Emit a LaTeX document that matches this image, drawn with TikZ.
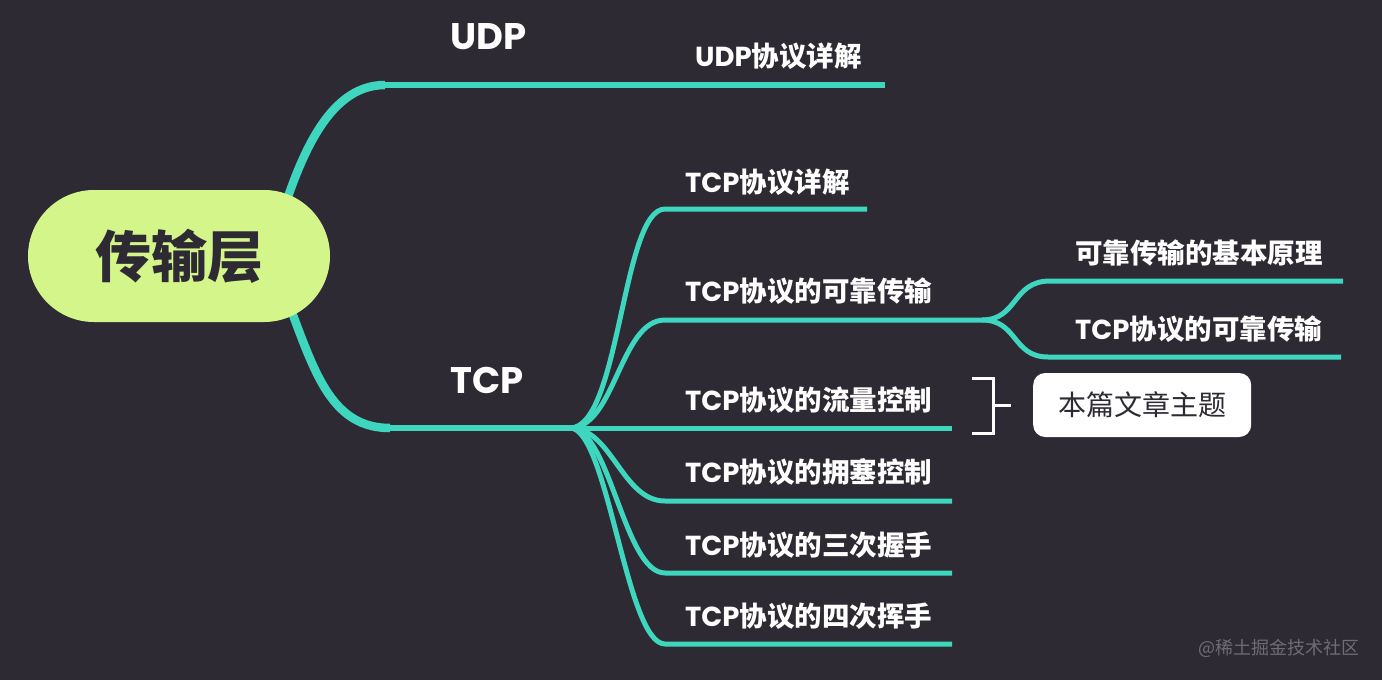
\documentclass[tikz,border=0pt]{standalone}
\usepackage{fontspec}
\usepackage{xcolor}
\usepackage{tikz}
\usetikzlibrary{positioning}
\newfontfamily\cjk{Noto Sans CJK SC}
\newfontfamily\lat{Poppins}
\definecolor{bgdark}{RGB}{46,42,51}
\definecolor{branchcol}{RGB}{62,214,191}
\definecolor{rootfill}{RGB}{212,245,138}
\definecolor{wmgray}{RGB}{112,108,118}

\begin{document}
\begin{tikzpicture}[x=1pt, y=-1pt,
        rootbox/.style={rectangle, fill=rootfill, rounded corners=66pt, minimum width=302pt, minimum height=132pt, text=bgdark, font=\cjk\bfseries\fontsize{56}{60}\selectfont},
        lvlone/.style={anchor=west, inner sep=0pt, text=white, font=\lat\bfseries\fontsize{37}{40}\selectfont},
        lvltwo/.style={anchor=west, inner sep=0pt, text=white, font=\cjk\bfseries\fontsize{27.5}{30}\selectfont},
        topicbox/.style={rectangle, fill=white, rounded corners=12pt, minimum width=218pt, minimum height=64pt, text=bgdark, font=\cjk\fontsize{28}{30}\selectfont},
        rootline/.style={draw=branchcol, line width=8.5pt},
        subline/.style={draw=branchcol, line width=5pt, line join=round},
        bracket/.style={draw=white, line width=3pt},
        wmtext/.style={anchor=east, inner sep=0pt, text=wmgray, font=\cjk\fontsize{18}{20}\selectfont}]

        \fill[bgdark] (0,0) rectangle (1382,680);
        \useasboundingbox (0,0) rectangle (1382,680);

        % branch points
        \coordinate (rc) at (270,256);
        \coordinate (udpk) at (385,85);
        \coordinate (udpe) at (885,85);
        \coordinate (tcpk) at (390,428);
        \coordinate (tcpf) at (570,428);
        \coordinate (t1s) at (665,209);  \coordinate (t1e) at (867,209);
        \coordinate (t2s) at (665,320);  \coordinate (t2f) at (982,320);
        \coordinate (r1s) at (1050,281); \coordinate (r1e) at (1343,281);
        \coordinate (r2s) at (1048,357); \coordinate (r2e) at (1341,357);
        \coordinate (t3e) at (952,428);
        \coordinate (t4s) at (665,501);  \coordinate (t4e) at (952,501);
        \coordinate (t5s) at (665,573);  \coordinate (t5e) at (952,573);
        \coordinate (t6s) at (665,644);  \coordinate (t6e) at (952,644);

        % branches
        \draw[rootline] (rc) .. controls (295,165) and (325,85) .. (udpk);
        \draw[subline, line width=5.5pt] (udpk) -- (udpe);
        \draw[rootline] (rc) .. controls (310,350) and (320,428) .. (tcpk);
        \draw[subline, line width=5.5pt] (tcpk) -- (tcpf);
        \draw[subline] (tcpf) .. controls (620,428) and (622,209) .. (t1s) -- (t1e);
        \draw[subline] (tcpf) .. controls (615,428) and (620,320) .. (t2s) -- (t2f);
        \draw[subline] (t2f) .. controls (1018,320) and (1012,281) .. (r1s) -- (r1e);
        \draw[subline] (t2f) .. controls (1018,320) and (1012,357) .. (r2s) -- (r2e);
        \draw[subline] (tcpf) -- (t3e);
        \draw[subline] (tcpf) .. controls (612,428) and (622,501) .. (t4s) -- (t4e);
        \draw[subline] (tcpf) .. controls (610,428) and (624,573) .. (t5s) -- (t5e);
        \draw[subline] (tcpf) .. controls (608,428) and (626,644) .. (t6s) -- (t6e);

        \node (root) [rootbox] at (179,256) {传输层};
        \node (udp) [lvlone] at (450,37) {UDP};
        \node (tcp) [lvlone] at (450,380) {TCP};
        \node (udpd) [lvltwo] at (695,56) {{\lat UDP}协议详解};
        \node (tcpd) [lvltwo] at (685,182) {{\lat TCP}协议详解};
        \node (rel) [lvltwo] at (685,291) {{\lat TCP}协议的可靠传输};
        \node (relbase) [lvltwo] at (1075,253) {可靠传输的基本原理};
        \node (relsub) [lvltwo] at (1075,329) {{\lat TCP}协议的可靠传输};
        \node (flow) [lvltwo] at (685,400) {{\lat TCP}协议的流量控制};
        \node (cong) [lvltwo] at (685,472) {{\lat TCP}协议的拥塞控制};
        \node (hs) [lvltwo] at (685,545) {{\lat TCP}协议的三次握手};
        \node (wave) [lvltwo] at (685,616) {{\lat TCP}协议的四次挥手};

        % topic bracket
        \coordinate (bt) at (972,378);
        \coordinate (bb) at (972,433);
        \coordinate (bm) at (1011,405);
        \draw[bracket] (bt) -- ++(21,0) |- (bb);
        \draw[bracket] (993,405) -- (bm);
        \node (topic) [topicbox, right=22pt of bm] {本篇文章主题};

        \node (wm) [wmtext] at (1360,648) {@稀土掘金技术社区};
    \end{tikzpicture}
\end{document}
